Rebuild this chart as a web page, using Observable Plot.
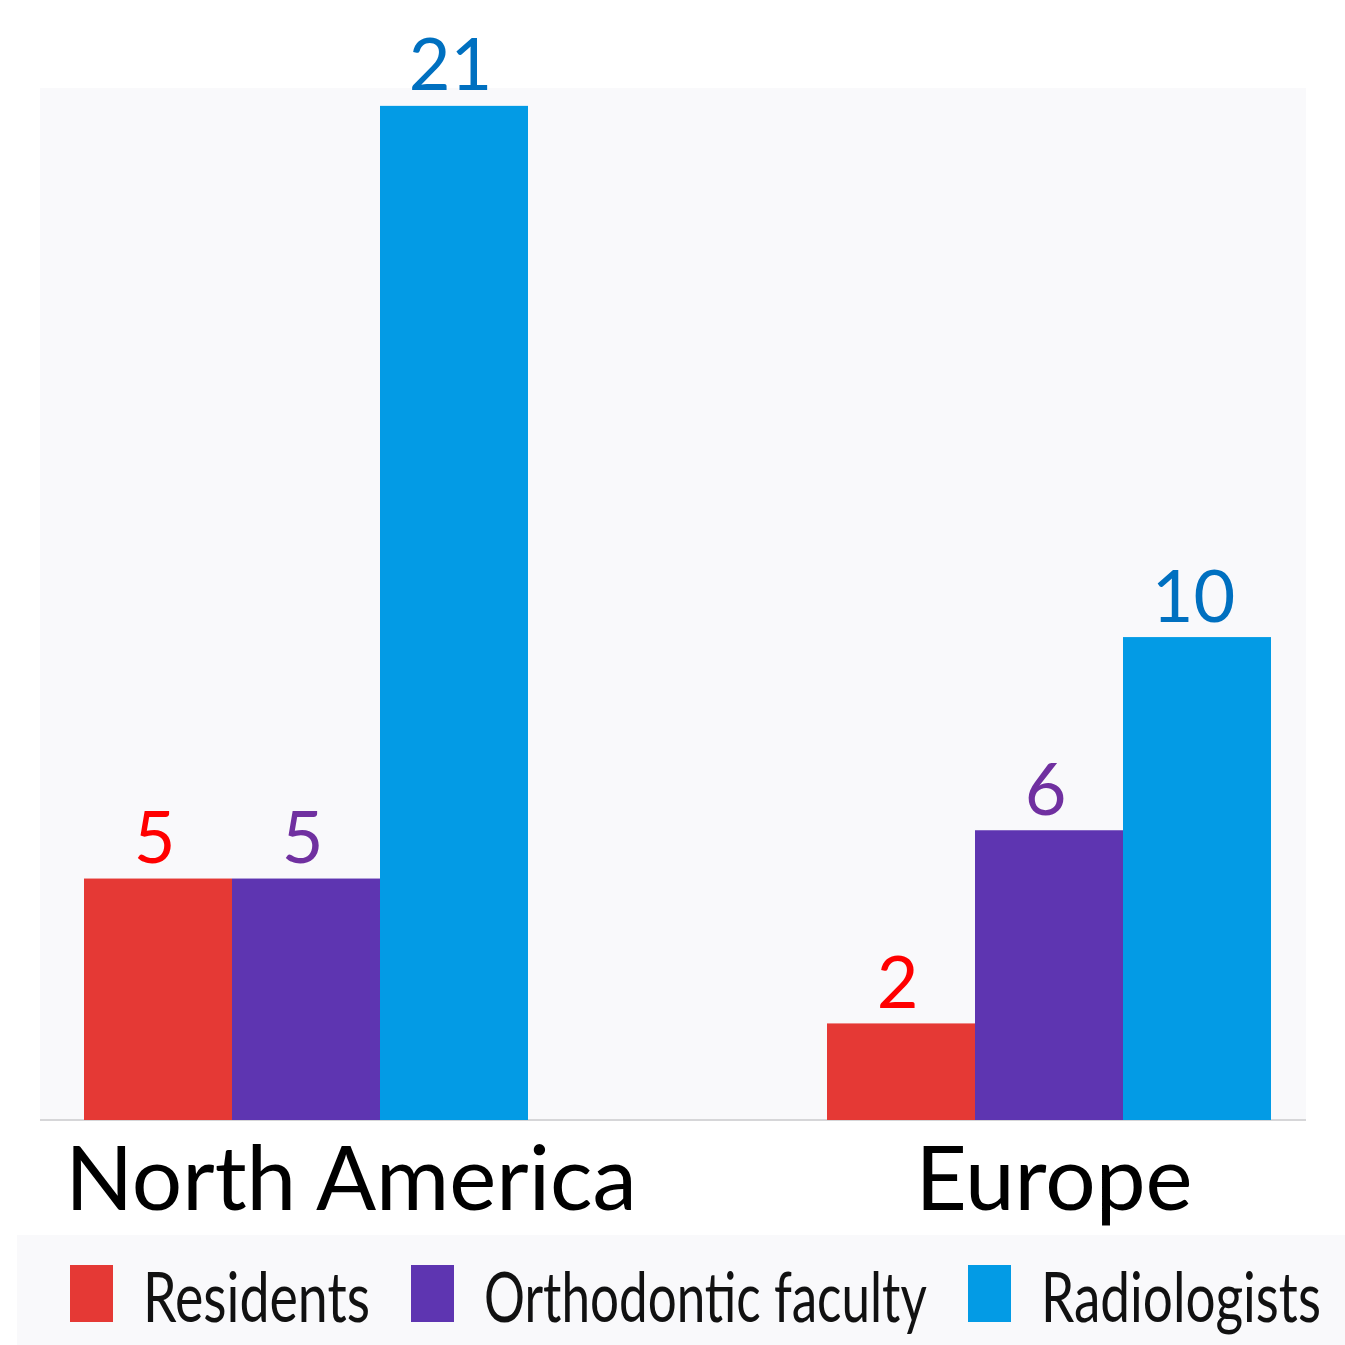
<!DOCTYPE html>
<html>
<head>
<meta charset="utf-8">
<script src="https://cdn.jsdelivr.net/npm/d3@7"></script>
<script src="https://cdn.jsdelivr.net/npm/@observablehq/plot@0.6"></script>
<style>
  html, body { margin: 0; padding: 0; background: #ffffff; }
  #wrap { position: relative; width: 1345px; height: 1235px; }
  #bg { position: absolute; left: 40px; top: 88px; width: 1266px; height: 1031px;
        background: #f9f9fb; border-bottom: 2px solid #d6d6d8; }
  #chart { position: absolute; left: 0; top: 0; }
  #legend { display: block; }
</style>
</head>
<body>
<div id="wrap"><div id="bg"></div><div id="chart"></div></div>
<div id="legend"></div>
<script>
const regions = ["North America", "Europe"];
const series = ["Residents", "Orthodontic faculty", "Radiologists"];
const residents = [5, 2];
const faculty = [5, 6];
const radiologists = [21, 10];

const barColors = ["#e53935", "#5e35b1", "#039be5"];
const labelColors = ["#ff0000", "#7030a0", "#0070c0"];

const seriesValues = [residents, faculty, radiologists];
const data = regions.flatMap((r, i) =>
  series.map((s, j) => ({region: r, series: s, value: seriesValues[j][i]}))
);
const sIdx = d => series.indexOf(d.series);

const chart = Plot.plot({
  width: 1345,
  height: 1235,
  marginTop: 88,
  marginBottom: 115,
  marginLeft: 40,
  marginRight: 39,
  style: {fontFamily: "Lato", background: "transparent", overflow: "visible"},
  fx: {domain: regions, paddingInner: 0.4005, paddingOuter: 0.0511, align: 0.553, label: null},
  x: {domain: series, padding: 0, axis: null},
  y: {domain: [0, 21.37], axis: null},
  marks: [
    Plot.barY(data, {fx: "region", x: "series", y: "value", fill: d => barColors[sIdx(d)]}),
    Plot.text(data, {
      fx: "region", x: "series", y: "value",
      text: d => String(d.value),
      fill: d => labelColors[sIdx(d)],
      dx: -4, dy: -16, lineAnchor: "bottom", fontSize: 72
    }),
    Plot.axisFx({ticks: [regions[0]], anchor: "bottom", tickSize: 0, tickPadding: 26, fontSize: 89, label: null, fill: "#000", dx: 45}),
    Plot.axisFx({ticks: [regions[1]], anchor: "bottom", tickSize: 0, tickPadding: 26, fontSize: 89, label: null, fill: "#000", dx: 5})
  ]
});
document.getElementById("chart").appendChild(chart);

// Legend
const legendLayout = {start: 70, swatchW: 43, swatchH: 57, swatchTop: 30, gapText: 30, gapItem: 41,
                      textWidths: [227, 443, 280], baseline: 87, fontSize: 70};
const lsvg = d3.select("#legend").append("svg").attr("width", 1345).attr("height", 110);
lsvg.append("rect").attr("x", 17).attr("y", 0).attr("width", 1328).attr("height", 110).attr("fill", "#f9f9fb");
let cx = legendLayout.start;
series.forEach((s, j) => {
  lsvg.append("rect").attr("x", cx).attr("y", legendLayout.swatchTop)
    .attr("width", legendLayout.swatchW).attr("height", legendLayout.swatchH).attr("fill", barColors[j]);
  cx += legendLayout.swatchW + legendLayout.gapText;
  const t = lsvg.append("text").attr("x", 0).attr("y", 0)
    .attr("font-family", "Lato").attr("font-size", legendLayout.fontSize).attr("fill", "#111")
    .text(s);
  const w = t.node().getComputedTextLength();
  t.attr("transform", `translate(${cx},${legendLayout.baseline}) scale(${legendLayout.textWidths[j] / w},1)`);
  cx += legendLayout.textWidths[j] + legendLayout.gapItem;
});
</script>
</body>
</html>
